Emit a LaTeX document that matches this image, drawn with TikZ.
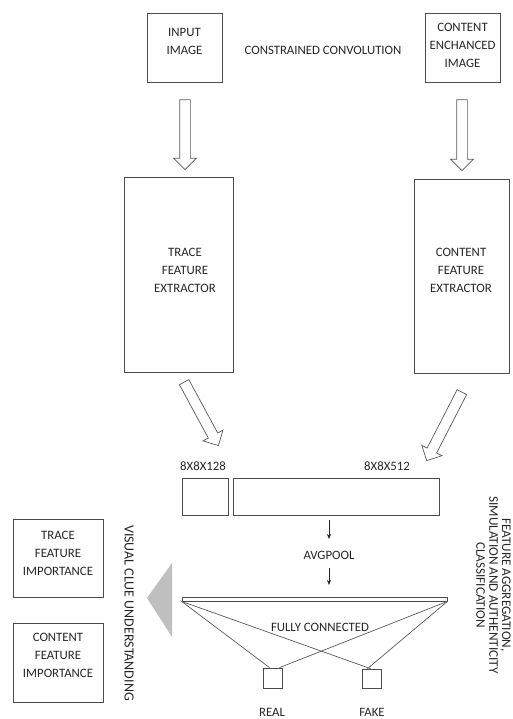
\documentclass[tikz,border=0pt]{standalone}
\usepackage{fontspec}
\setmainfont{Carlito}
\usetikzlibrary{shapes.arrows,arrows.meta}
\begin{document}
\begin{tikzpicture}[x=1pt,y=-1pt,
  box/.style={draw=black!70, line width=0.8pt, inner sep=0pt},
  lbl/.style={font=\fontsize{12.8}{18}\selectfont, text=black!85, align=center, inner sep=0pt},
  vlbl/.style={font=\fontsize{13.2}{12.8}\selectfont, text=black!85, align=center, inner sep=0pt, rotate=-90},
  harrow/.style={single arrow, draw=black!65, line width=0.7pt, fill=white, inner sep=5pt,
    minimum width=22pt, single arrow head extend=6pt, anchor=center},
  smallarrow/.style={draw=black!85, line width=0.7pt, -{Stealth[length=5pt,width=4pt]}},
  fcline/.style={draw=black!65, line width=0.7pt}]
\useasboundingbox (0,0) rectangle (512,719);

% top boxes
\node[box, minimum width=75pt, minimum height=69pt] (input) at (184.5,47.5) {};
\node[lbl] (inputt) at (184.5,41.5) {INPUT\\IMAGE};
\node[box, minimum width=75pt, minimum height=69pt] (content) at (462.5,47.5) {};
\node[lbl] (contentt) at (462.5,45) {CONTENT\\ENCHANCED\\IMAGE};
\node[lbl] (cc) at (323,50) {CONSTRAINED CONVOLUTION};

% hollow arrows
\node[harrow, minimum height=70pt, rotate=-90] (ha1) at (185,132) {};
\node[harrow, minimum height=71pt, rotate=-90] (ha2) at (462,132.5) {};

% extractors
\node[box, minimum width=109pt, minimum height=195pt] (trace) at (178.5,274.5) {};
\node[lbl] (tracet) at (185,270) {TRACE\\FEATURE\\EXTRACTOR};
\node[box, minimum width=95pt, minimum height=194pt] (cfe) at (461.5,276) {};
\node[lbl] (cfet) at (461,270) {CONTENT\\FEATURE\\EXTRACTOR};

% diagonal hollow arrows
\node[harrow, minimum height=72pt, rotate=-61.6] (ha3) at (200,411.5) {};
\node[harrow, minimum height=77pt, rotate=-117.2] (ha4) at (445.5,424) {};

% feature maps
\node[lbl] (l128) at (203,466) {8X8X128};
\node[lbl] (l512) at (387,466) {8X8X512};
\node[box, minimum width=46pt, minimum height=37pt] (small) at (205,496.5) {};
\node[box, minimum width=206pt, minimum height=37pt] (big) at (336,496.5) {};

% avgpool
\node[lbl] (avg) at (329,555) {AVGPOOL};
\draw[smallarrow] ([yshift=-5pt]big.south -| avg) -- ([yshift=16pt]avg.center);
\draw[smallarrow] ([yshift=-13pt]avg.center) -- ([yshift=12pt]avg.center |- 0,597);

% fully connected
\node[box, minimum width=265pt, minimum height=4pt] (fc) at (314.5,599) {};
\node[lbl] (fct) at (320,627) {FULLY CONNECTED};
\node[box, minimum width=19pt, minimum height=20pt] (real) at (272.5,678) {};
\node[box, minimum width=19pt, minimum height=19pt] (fake) at (371.5,678.5) {};
\draw[fcline] (fc.south west) -- ([xshift=-3pt]real.north);
\draw[fcline] (fc.south west) -- ([xshift=-1pt]fake.north);
\draw[fcline] (fc.south east) -- ([xshift=7pt]real.north);
\draw[fcline] (fc.south east) -- ([xshift=-4pt]fake.north);
\node[lbl] (realt) at (272,712) {REAL};
\node[lbl] (faket) at (372,712) {FAKE};

% gray triangle
\fill[black!25] (147,598) -- (172,563) -- (172,637) -- cycle;

% importance boxes
\node[box, minimum width=90pt, minimum height=78pt] (tfi) at (58,558) {};
\node[lbl] (tfit) at (58,553.5) {TRACE\\FEATURE\\IMPORTANCE};
\node[box, minimum width=90pt, minimum height=79pt] (cfi) at (58,662.5) {};
\node[lbl] (cfit) at (58,655) {CONTENT\\FEATURE\\IMPORTANCE};

% rotated labels
\node[vlbl, font=\fontsize{14}{14}\selectfont] (vcu) at (129,613) {VISUAL CLUE UNDERSTANDING};
\node[vlbl] (fag) at (493.5,585) {FEATURE AGGREGATION,\\SIMULATION AND AUTHENTICITY\\CLASSIFICATION};
\end{tikzpicture}
\end{document}
